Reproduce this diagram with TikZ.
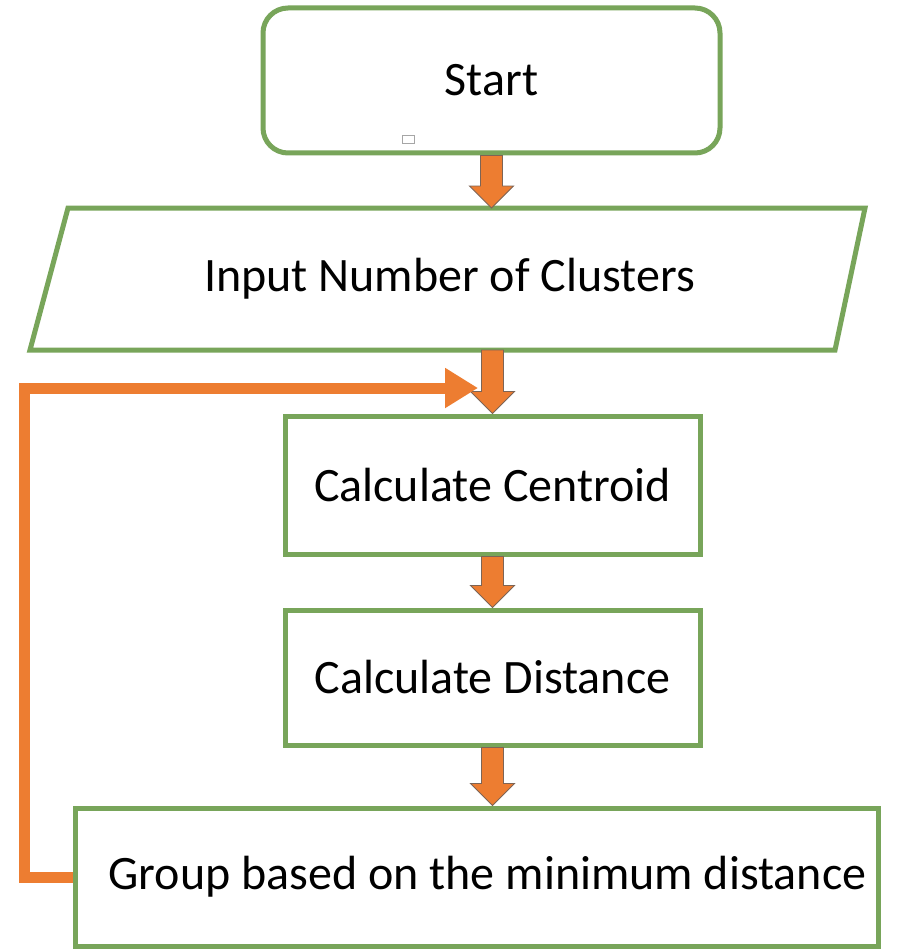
\documentclass[tikz,border=0pt]{standalone}
\usepackage{fontspec}
\setmainfont{Carlito}
\usetikzlibrary{calc,arrows.meta}
\definecolor{boxgreen}{RGB}{120,165,90}
\definecolor{flowor}{RGB}{237,125,49}
\definecolor{arrowedge}{RGB}{125,100,85}
\begin{document}
\begin{tikzpicture}[x=1pt,y=-1pt,
  flowtext/.style={font=\fontsize{48}{58}\selectfont, inner sep=0pt},
  box/.style={flowtext, draw=boxgreen, line width=5pt, fill=white},
  % thick orange block arrow going straight down from the start x to the target y
  blockarrow/.style={fill=flowor, draw=arrowedge, line width=0.9pt, line join=miter,
    to path={let \p1=(\tikztostart), \p2=(\tikztotarget) in
      (\x1-11pt,\y1) -- (\x1+11pt,\y1) -- (\x1+11pt,\y2+22pt) -- (\x1+22pt,\y2+22pt)
      -- (\x1,\y2) -- (\x1-22pt,\y2+22pt) -- (\x1-11pt,\y2+22pt) -- cycle}},
  loopline/.style={draw=flowor, line width=11pt, line join=miter,
    -{Triangle[length=33pt,width=38pt]}}
]
\useasboundingbox[fill=white] (0,0) rectangle (907,952);

% flowchart steps
\node[box, rounded corners=25pt, minimum width=457, minimum height=145]
  (start) at (491.5,80.5) {Start};
\node[draw=gray!70, line width=0.9pt, fill=white, minimum width=12, minimum height=8,
  inner sep=0pt] (handle) at (408,139) {};

\node[flowtext, outer sep=0pt, minimum width=801, minimum height=142]
  (input) at (449.5,279) {Input Number of Clusters};
\draw[draw=boxgreen, line width=5pt, line join=miter]
  ([xshift=19pt]input.north west) -- ([xshift=15pt]input.north east)
  -- ([xshift=-15pt]input.south east) -- ([xshift=-19pt]input.south west) -- cycle;

\node[box, minimum width=415, minimum height=138]
  (centroid) at (492.5,485) {Calculate Centroid};
\node[box, minimum width=415, minimum height=135]
  (distance) at (492.5,677.5) {Calculate Distance};
\node[box, minimum width=803, minimum height=138]
  (group) at (476.5,877) {\hspace*{22pt}Group based on the minimum distance};

% connectors
\draw[blockarrow] (start.south) to (input.north);
\draw[blockarrow] (input.south -| centroid.north) to (centroid.north);
\draw[blockarrow] (centroid.south) to (distance.north);
\draw[blockarrow] (distance.south) to (group.north);

% loop back from the grouping step to the centroid step
\coordinate (loopend) at (478,388);
\draw[loopline] (group.west) -- ++(-48,0) |- (loopend);
\end{tikzpicture}
\end{document}
